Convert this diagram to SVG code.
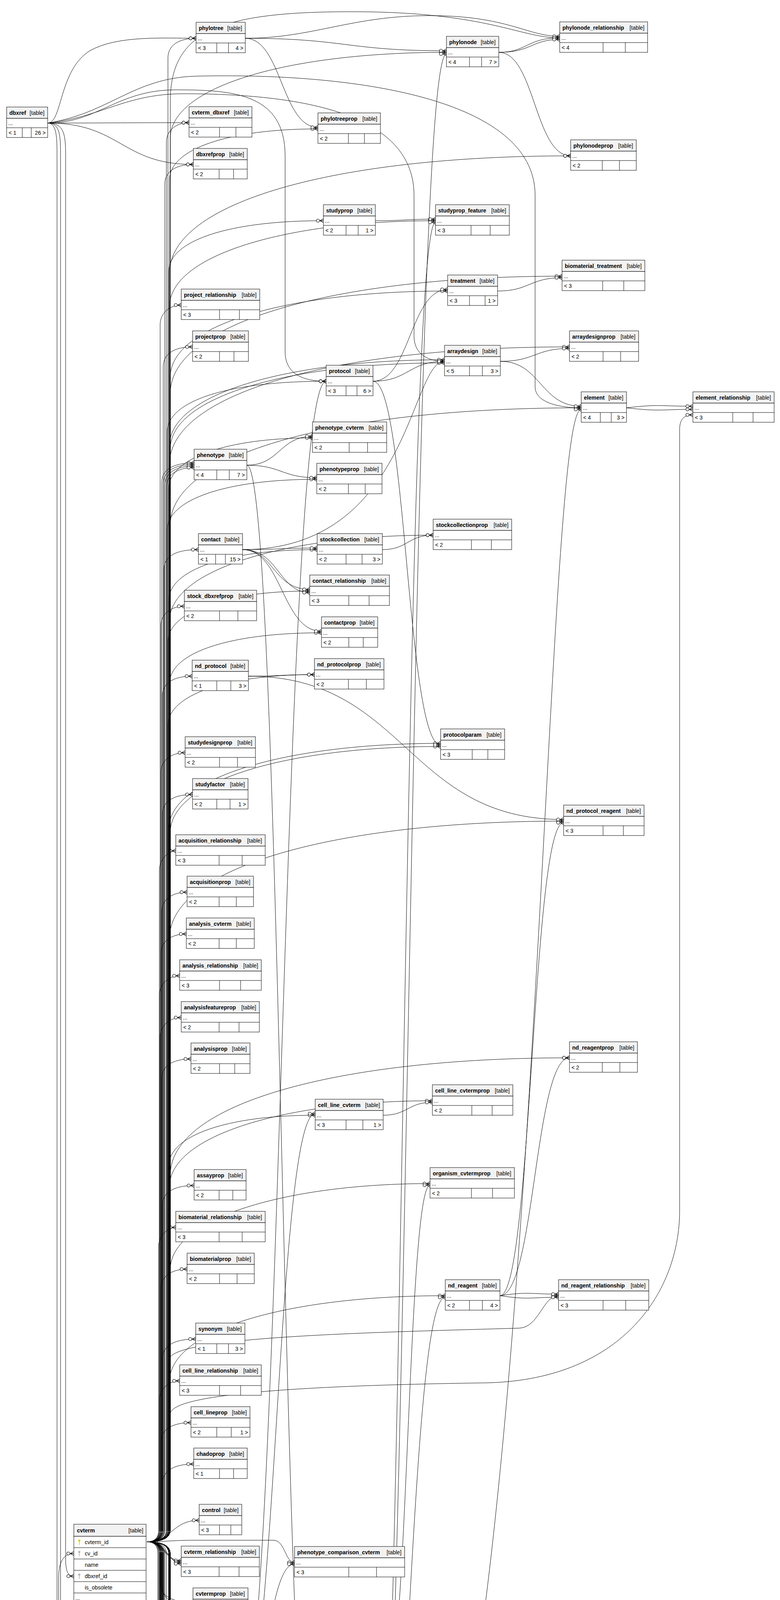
<svg xmlns="http://www.w3.org/2000/svg" xmlns:xlink="http://www.w3.org/1999/xlink" width="1997" height="7711" viewBox="0 0 1997 7711">
<style>
.h{fill:#f2f2f2;stroke:#000;stroke-width:1}
.b{fill:#fff;stroke:#000;stroke-width:1}
.l{stroke:#000;fill:none;stroke-width:1}
.n{font:bold 14px "Liberation Sans",Arial,sans-serif;fill:#000}
.t,.r{font:14px "Liberation Sans",Arial,sans-serif;fill:#000}
.r{text-anchor:end}
#connectors path{fill:none;stroke:#000;stroke-width:1;marker-end:url(#fk)}
</style>
<defs>
<marker id="fk" markerUnits="userSpaceOnUse" markerWidth="26" markerHeight="14" viewBox="-22 -7 26 14" refX="0" refY="0" orient="auto" overflow="visible">
<path d="M-9 0L0 -5M-9 0L0 5M-9 0H0" fill="none" stroke="#000" stroke-width="1.2"/>
<circle cx="-14" cy="0" r="4" fill="#fff" stroke="#000" stroke-width="1.2"/>
</marker>
<g id="kp"><circle cx="0" cy="-4" r="2.8" fill="#d6cf00"/><rect x="-0.8" y="-2" width="1.6" height="9" fill="#d6cf00"/></g>
<g id="kf"><circle cx="0" cy="-4" r="2.8" fill="#b4b4b4"/><rect x="-0.8" y="-2" width="1.6" height="9" fill="#b4b4b4"/></g>
</defs>
<rect width="1997" height="7711" fill="#fff"/>
<g id="connectors">
<path d="M376 3947Q430 3947 430 3917V148C430 118 455 98 502 98"/>
<path d="M376 3947Q426 3947 426 3917V364C426 334 451 314 484 314"/>
<path d="M376 3947Q422 3947 422 3917V471C422 441 447 421 495 421"/>
<path d="M376 3947Q410 3947 410 3917V831C410 801 435 781 464 781"/>
<path d="M376 3947Q418 3947 418 3917V938C418 908 443 888 493 888"/>
<path d="M376 3947Q414 3947 414 3917V1235C414 1205 439 1185 497 1185"/>
<path d="M376 3947Q418 3947 418 3917V1239C418 1209 443 1189 497 1189"/>
<path d="M376 3947Q422 3947 422 3917V1243C422 1213 447 1193 497 1193"/>
<path d="M376 3947Q426 3947 426 3917V1247C426 1217 451 1197 497 1197"/>
<path d="M376 3947Q420 3947 420 3917V1457C420 1427 445 1407 508 1407"/>
<path d="M376 3947Q412 3947 412 3917V1602C412 1572 437 1552 472 1552"/>
<path d="M376 3947Q416 3947 416 3917V1781C416 1751 441 1731 492 1731"/>
<path d="M376 3947Q412 3947 412 3917V1977C412 1947 437 1927 474 1927"/>
<path d="M376 3947Q416 3947 416 3917V2084C416 2054 441 2034 493 2034"/>
<path d="M376 3947Q408 3947 408 3917V2228C408 2198 433 2178 450 2178"/>
<path d="M376 3947Q414 3947 414 3917V2334C414 2304 439 2284 479 2284"/>
<path d="M376 3947Q412 3947 412 3917V2441C412 2411 437 2391 477 2391"/>
<path d="M376 3947Q408 3947 408 3917V2548C408 2518 433 2498 460 2498"/>
<path d="M376 3947Q410 3947 410 3917V2655C410 2625 435 2605 464 2605"/>
<path d="M376 3947Q414 3947 414 3917V2761C414 2731 439 2711 489 2711"/>
<path d="M376 3947Q416 3947 416 3917V3085C416 3055 441 3035 497 3035"/>
<path d="M376 3947Q406 3947 406 3917V3192C406 3162 431 3142 450 3142"/>
<path d="M376 3947Q412 3947 412 3917V3299C412 3269 437 3249 479 3249"/>
<path d="M376 3947Q416 3947 416 3917V3478C416 3448 441 3428 501 3428"/>
<path d="M376 3947Q408 3947 408 3917V3585C408 3555 433 3535 460 3535"/>
<path d="M376 3947Q412 3947 412 3917V3692C412 3662 437 3642 489 3642"/>
<path d="M376 3947Q416 3947 416 3917V3798C416 3768 441 3748 496 3748"/>
<path d="M376 3947C440 3947 440 3892 510 3892"/>
<path d="M376 3947Q434 3947 434 3917V460C434 382 584 330 814 330"/>
<path d="M376 3947Q432 3947 432 3917V695C432 617 582 565 828 565"/>
<path d="M376 3947Q428 3947 428 3917V1106C428 1028 578 976 835 976"/>
<path d="M376 3947Q432 3947 432 3917V1251C432 1173 582 1121 800 1121"/>
<path d="M376 3947Q428 3947 428 3917V1357C428 1279 578 1227 811 1227"/>
<path d="M376 3947Q432 3947 432 3917V1537C432 1459 582 1407 812 1407"/>
<path d="M376 3947Q430 3947 430 3917V1643C430 1565 580 1513 793 1513"/>
<path d="M376 3947Q434 3947 434 3917V1750C434 1672 584 1620 823 1620"/>
<path d="M376 3947Q430 3947 430 3917V1857C430 1779 580 1727 805 1727"/>
<path d="M376 3947Q432 3947 432 3917V2985C432 2907 582 2855 807 2855"/>
<path d="M376 3947Q436 3947 436 3917V354C436 222 736 134 1143 134"/>
<path d="M376 3947Q434 3947 434 3917V785C434 653 734 565 1115 565"/>
<path d="M376 3947Q436 3947 436 3917V965C436 833 736 745 1146 745"/>
<path d="M376 3947Q434 3947 434 3917V1141C434 1009 734 921 1138 921"/>
<path d="M376 3947Q436 3947 436 3917V1149C436 1017 736 929 1138 929"/>
<path d="M376 3947Q434 3947 434 3917V1590C434 1458 734 1370 1109 1370"/>
<path d="M376 3947Q432 3947 432 3917V2123C432 1991 732 1903 1128 1903"/>
<path d="M376 3947Q436 3947 436 3917V2131C436 1999 736 1911 1128 1911"/>
<path d="M376 3947Q434 3947 434 3917V3038C434 2906 734 2818 1107 2818"/>
<path d="M376 3947Q436 3947 436 3917V3250C436 3118 736 3030 1101 3030"/>
<path d="M376 3947Q434 3947 434 3917V3537C434 3405 734 3317 1140 3317"/>
<path d="M376 3947Q436 3947 436 3917V260C436 80 560 30 900 30C1250 30 1330 97 1433 97"/>
<path d="M376 3947Q434 3947 434 3917V699C434 519 854 399 1461 399"/>
<path d="M376 3947Q436 3947 436 3917V1007C436 827 856 707 1439 707"/>
<path d="M376 3947Q434 3947 434 3917V1188C434 1008 854 888 1458 888"/>
<path d="M376 3947Q436 3947 436 3917V1344C436 1164 856 1044 1488 1044"/>
<path d="M376 3947Q436 3947 436 3917V3620C436 3560 900 3545 1250 3540C1600 3530 1740 3300 1740 3100V1100C1740 1075 1750 1062 1774 1062"/>
<path d="M376 3947Q434 3947 434 3917V2402C434 2222 854 2102 1443 2102"/>
<path d="M376 3947Q436 3947 436 3917V3008C436 2828 856 2708 1458 2708"/>
<path d="M376 3947Q434 3947 434 3917V3480C434 3420 1000 3410 1330 3400C1380 3398 1390 3317 1430 3317"/>
<path d="M376 3947C420 3947 420 3995 464 3995"/>
<path d="M376 3947C425 3947 425 3999 464 3999"/>
<path d="M376 3947C430 3947 430 4003 464 4003"/>
<path d="M376 3947Q410 3947 410 3977V4052C410 4082 435 4102 494 4102"/>
<path d="M376 3947Q414 3947 414 3977V4060C414 4090 439 4110 494 4110"/>
<path d="M376 3947Q412 3947 412 3977V4158C412 4188 437 4208 477 4208"/>
<path d="M376 3947Q416 3947 416 3977V4166C416 4196 441 4216 477 4216"/>
<path d="M376 3947Q418 3947 418 3977V4269C418 4299 443 4319 508 4319"/>
<path d="M376 3947Q414 3947 414 3977V4376C414 4406 439 4426 520 4426"/>
<path d="M376 3947Q406 3947 406 3977V4520C406 4550 421 4570 441 4570"/>
<path d="M376 3947Q410 3947 410 3977V4626C410 4656 435 4676 461 4676"/>
<path d="M376 3947Q414 3947 414 3977V4771C414 4801 439 4821 479 4821"/>
<path d="M376 3947Q408 3947 408 3977V4986C408 5016 428 5036 451 5036"/>
<path d="M376 3947Q412 3947 412 3977V5166C412 5196 437 5216 476 5216"/>
<path d="M376 3947Q404 3947 404 3977V5310C404 5340 419 5360 439 5360"/>
<path d="M376 3947Q416 3947 416 3977V5455C416 5485 441 5505 501 5505"/>
<path d="M376 3947Q412 3947 412 3977V5598C412 5628 437 5648 480 5648"/>
<path d="M376 3947Q408 3947 408 3977V5815C408 5845 428 5865 452 5865"/>
<path d="M376 3947Q410 3947 410 3977V5921C410 5951 435 5971 467 5971"/>
<path d="M376 3947Q412 3947 412 3977V6097C412 6127 437 6147 467 6147"/>
<path d="M376 3947Q416 3947 416 3977V6105C416 6135 441 6155 467 6155"/>
<path d="M376 3947Q418 3947 418 3977V6281C418 6311 443 6331 501 6331"/>
<path d="M376 3947Q410 3947 410 3977V6425C410 6455 435 6475 464 6475"/>
<path d="M376 3947Q412 3947 412 3977V6642C412 6672 437 6692 469 6692"/>
<path d="M376 3947Q414 3947 414 3977V6857C414 6887 439 6907 481 6907"/>
<path d="M376 3947Q418 3947 418 3977V7161C418 7191 443 7211 495 7211"/>
<path d="M376 3947Q418 3947 418 3977V7457C418 7487 443 7507 495 7507"/>
<path d="M376 3947Q422 3947 422 3977V7461C422 7491 447 7511 495 7511"/>
<path d="M376 3947Q426 3947 426 3977V7465C426 7495 451 7515 495 7515"/>
<path d="M376 3947Q420 3947 420 3977V7570C420 7600 445 7620 510 7620"/>
<path d="M376 3947C420 3947 440 3943 500 3943H700C730 3943 730 4000 754 4000"/>
<path d="M376 3947Q434 3947 434 3977V4085C434 4163 584 4215 805 4215"/>
<path d="M376 3947Q432 3947 432 3977V4192C432 4270 582 4322 804 4322"/>
<path d="M376 3947Q434 3947 434 3977V4408C434 4486 584 4538 835 4538"/>
<path d="M376 3947Q432 3947 432 3977V4638C432 4716 582 4768 812 4768"/>
<path d="M376 3947Q434 3947 434 3977V4889C434 4967 584 5019 841 5019"/>
<path d="M376 3947Q432 3947 432 3977V5155C432 5233 582 5285 830 5285"/>
<path d="M376 3947Q434 3947 434 3977V5482C434 5560 584 5612 816 5612"/>
<path d="M376 3947Q432 3947 432 3977V6021C432 6099 582 6151 781 6151"/>
<path d="M376 3947Q434 3947 434 3977V6128C434 6206 584 6258 814 6258"/>
<path d="M376 3947Q432 3947 432 3977V6235C432 6313 582 6365 786 6365"/>
<path d="M376 3947Q434 3947 434 3977V6522C434 6600 584 6652 845 6652"/>
<path d="M376 3947Q432 3947 432 3977V6775C432 6853 582 6905 780 6905"/>
<path d="M376 3947Q434 3947 434 3977V6881C434 6959 584 7011 796 7011"/>
<path d="M376 3947Q432 3947 432 3977V7061C432 7139 582 7191 842 7191"/>
<path d="M376 3947Q434 3947 434 3977V7168C434 7246 584 7298 807 7298"/>
<path d="M376 3947Q436 3947 436 3977V4138C436 4270 736 4358 1129 4358"/>
<path d="M376 3947Q434 3947 434 3977V4778C434 4910 734 4998 1109 4998"/>
<path d="M376 3947Q436 3947 436 3977V4885C436 5017 736 5105 1127 5105"/>
<path d="M376 3947Q434 3947 434 3977V4991C434 5123 734 5211 1119 5211"/>
<path d="M376 3947Q436 3947 436 3977V5098C436 5230 736 5318 1139 5318"/>
<path d="M376 3947Q434 3947 434 3977V6055C434 6187 734 6275 1132 6275"/>
<path d="M376 3947Q436 3947 436 3977V6162C436 6294 736 6382 1104 6382"/>
<path d="M376 3947Q434 3947 434 3977V6269C434 6401 734 6489 1114 6489"/>
<path d="M376 3947Q436 3947 436 3977V6375C436 6507 736 6595 1144 6595"/>
<path d="M376 3947Q434 3947 434 3977V6545C434 6677 734 6765 1129 6765"/>
<path d="M376 3947Q436 3947 436 3977V6859C436 6991 736 7079 1118 7079"/>
<path d="M376 3947Q434 3947 434 3977V6971C434 7103 734 7191 1111 7191"/>
<path d="M376 3947Q436 3947 436 3977V7113C436 7245 736 7333 1140 7333"/>
<path d="M376 3947Q436 3947 436 3977V4661C436 4841 856 4961 1429 4961"/>
<path d="M376 3947Q434 3947 434 3977V4963C434 5143 854 5263 1446 5263"/>
<path d="M376 3947Q436 3947 436 3977V5786C436 5966 856 6086 1423 6086"/>
<path d="M376 3947Q434 3947 434 3977V6189C434 6369 854 6489 1423 6489"/>
<path d="M376 3947Q436 3947 436 3977V6787C436 6967 856 7087 1384 7087"/>
<path d="M122 315C160 315 150 180 230 130C300 90 420 98 502 98"/>
<path d="M122 315C300 315 300 314 484 314"/>
<path d="M122 315C310 315 310 421 495 421"/>
<path d="M122 315C250 315 300 230 450 230C600 230 730 240 730 400V900C730 960 780 976 835 976"/>
<path d="M122 315C260 300 320 240 470 240C800 240 1060 300 1060 500V860C1060 910 1100 925 1138 925"/>
<path d="M122 315C280 290 340 200 500 195C900 185 1370 250 1370 500V990C1370 1030 1430 1044 1488 1044"/>
<path d="M122 315C165 315 168 345 168 400V3990C168 4025 175 4035 189 4035"/>
<path d="M122 315C155 315 155 350 155 400V4900C155 5000 600 5019 841 5019"/>
<path d="M122 315C146 315 146 355 146 400V6560C146 6640 600 6652 845 6652"/>
<path d="M108 7514C150 7514 150 7480 150 7420V4040C150 3995 165 3977 189 3977"/>
<path d="M108 7514C300 7514 300 7519 495 7519"/>
<path d="M108 7514C309 7514 309 7620 510 7620"/>
<path d="M608 4426C721 4426 721 976 835 976"/>
<path d="M608 4426C708 4426 708 2851 807 2851"/>
<path d="M608 4426C681 4426 681 4004 754 4004"/>
<path d="M608 4426C700 4426 700 4211 805 4211"/>
<path d="M608 4426C712 4426 712 4219 805 4219"/>
<path d="M608 4426C706 4426 706 4318 804 4318"/>
<path d="M608 4426C721 4426 721 4538 835 4538"/>
<path d="M608 4426C710 4426 710 4764 812 4764"/>
<path d="M608 4426C1045 4426 1045 4354 1129 4354"/>
<path d="M608 4426C1048 4426 1048 5101 1127 5101"/>
<path d="M608 4426C719 4426 719 5281 830 5281"/>
<path d="M608 4426C1015 4426 1015 6485 1423 6485"/>
<path d="M608 4426C1040 4426 1040 6794 1129 6794"/>
<path d="M621 1407C1050 1407 1050 925 1138 925"/>
<path d="M621 1407C716 1407 716 1403 812 1403"/>
<path d="M621 1407C700 1407 700 1509 793 1509"/>
<path d="M621 1407C714 1407 714 1517 793 1517"/>
<path d="M621 1407C722 1407 722 1616 823 1616"/>
<path d="M979 1407C1044 1407 1044 1370 1109 1370"/>
<path d="M961 565C1038 565 1038 561 1115 561"/>
<path d="M628 98C721 98 721 326 814 326"/>
<path d="M628 98C885 98 885 130 1143 130"/>
<path d="M628 98C800 98 900 40 1100 40C1300 40 1350 93 1433 93"/>
<path d="M1277 134C1349 134 1349 97 1433 97"/>
<path d="M1277 134C1361 134 1361 101 1433 101"/>
<path d="M1277 134C1369 134 1369 399 1461 399"/>
<path d="M950 5019C1046 5019 1046 138 1143 138"/>
<path d="M950 5019C1032 5019 1032 569 1115 569"/>
<path d="M950 5019C1380 5019 1380 1048 1488 1048"/>
<path d="M950 5019C1045 5019 1045 3321 1140 3321"/>
<path d="M950 5019C1025 5019 1025 4994 1109 4994"/>
<path d="M950 5019C1035 5019 1035 5002 1109 5002"/>
<path d="M950 5019C1038 5019 1038 5109 1127 5109"/>
<path d="M950 5019C1030 5019 1030 5207 1119 5207"/>
<path d="M950 5019C1040 5019 1040 5215 1119 5215"/>
<path d="M950 5019C1044 5019 1044 5314 1139 5314"/>
<path d="M950 5019C1041 5019 1041 6271 1132 6271"/>
<path d="M955 976C1050 976 1050 741 1146 741"/>
<path d="M955 976C1046 976 1046 925 1138 925"/>
<path d="M955 976C1041 976 1041 1907 1128 1907"/>
<path d="M632 1191C716 1191 716 1117 800 1117"/>
<path d="M632 1191C721 1191 721 1223 811 1223"/>
<path d="M632 1191C722 1191 722 4772 812 4772"/>
<path d="M1274 745C1356 745 1356 711 1439 711"/>
<path d="M1281 925C1370 925 1370 892 1458 892"/>
<path d="M1281 925C1384 925 1384 1040 1488 1040"/>
<path d="M1604 1044C1690 1034 1690 1040 1774 1040"/>
<path d="M1604 1044C1690 1054 1690 1048 1774 1048"/>
<path d="M636 1731C720 1731 720 1727 805 1727"/>
<path d="M636 1731C1040 1731 1040 2098 1443 2098"/>
<path d="M1280 3317C1362 3317 1362 2106 1443 2106"/>
<path d="M1280 3317C1369 3317 1369 2708 1458 2708"/>
<path d="M1280 3317C1355 3306 1355 3313 1430 3313"/>
<path d="M1280 3317C1355 3328 1355 3321 1430 3321"/>
<path d="M981 2855C1044 2855 1044 2822 1107 2822"/>
<path d="M987 4322C1044 4322 1044 3034 1101 3034"/>
<path d="M1311 4998C1370 4998 1370 4961 1429 4961"/>
<path d="M1292 5105C1369 5105 1369 5263 1446 5263"/>
<path d="M627 5505C720 5505 720 4768 812 4768"/>
<path d="M627 5505C1052 5505 1052 5211 1119 5211"/>
<path d="M627 5505C729 5505 729 5289 830 5289"/>
<path d="M627 5505C722 5505 722 5612 816 5612"/>
<path d="M661 6151C721 6151 721 6151 781 6151"/>
<path d="M628 6331C716 6331 716 4326 804 4326"/>
<path d="M628 6331C735 6331 735 5023 841 5023"/>
<path d="M628 6331C721 6331 721 6258 814 6258"/>
<path d="M628 6331C700 6331 700 6361 786 6361"/>
<path d="M628 6331C714 6331 714 6369 786 6369"/>
<path d="M628 6331C737 6331 737 6648 845 6648"/>
<path d="M628 6331C735 6331 735 7187 842 7187"/>
<path d="M944 6652C1038 6652 1038 6279 1132 6279"/>
<path d="M944 6652C1024 6652 1024 6378 1104 6378"/>
<path d="M944 6652C1022 6652 1022 6483 1114 6483"/>
<path d="M944 6652C1036 6652 1036 6495 1114 6495"/>
<path d="M944 6652C1044 6652 1044 6595 1144 6595"/>
<path d="M944 6652C1036 6652 1036 6735 1129 6735"/>
<path d="M944 6652C1031 6652 1031 7075 1118 7075"/>
<path d="M1314 6382C1368 6382 1368 6090 1423 6090"/>
<path d="M1304 6489C1364 6489 1364 6493 1423 6493"/>
<path d="M646 6907C1050 6907 1050 6386 1104 6386"/>
<path d="M646 6907C713 6907 713 6909 780 6909"/>
<path d="M646 6907C721 6907 721 7015 796 7015"/>
<path d="M948 7191C1038 7191 1038 4362 1129 4362"/>
<path d="M948 7191C1030 7180 1030 7187 1111 7187"/>
<path d="M948 7191C1030 7202 1030 7195 1111 7195"/>
<path d="M948 7191C1044 7191 1044 7329 1140 7329"/>
<path d="M635 7211C721 7211 721 7294 807 7294"/>
<path d="M635 7211C1055 7211 1055 7083 1118 7083"/>
<path d="M1291 6706C1337 6706 1337 7057 1384 7057"/>
</g>
<g id="dbxref" transform="translate(17,274)"><rect class="h" width="105" height="29"/><rect class="b" y="29" width="105" height="49"/><path class="l" d="M0 53H105M40 53V78M63 53V78"/><text class="n" x="7" y="20">dbxref</text><text class="r" x="97" y="20">[table]</text><text class="t" x="4" y="46">...</text><text class="t" x="5" y="71">&lt; 1</text><text class="r" x="100" y="71">26 &gt;</text></g>
<g id="phylotree" transform="translate(502,57)"><rect class="h" width="126" height="29"/><rect class="b" y="29" width="126" height="49"/><path class="l" d="M0 53H126M53 53V78M83 53V78"/><text class="n" x="7" y="20">phylotree</text><text class="r" x="118" y="20">[table]</text><text class="t" x="4" y="46">...</text><text class="t" x="5" y="71">&lt; 3</text><text class="r" x="121" y="71">4 &gt;</text></g>
<g id="cvterm_dbxref" transform="translate(484,273)"><rect class="h" width="161" height="29"/><rect class="b" y="29" width="161" height="49"/><path class="l" d="M0 53H161M78 53V78M120 53V78"/><text class="n" x="7" y="20">cvterm_dbxref</text><text class="r" x="153" y="20">[table]</text><text class="t" x="4" y="46">...</text><text class="t" x="5" y="71">&lt; 2</text></g>
<g id="dbxrefprop" transform="translate(495,380)"><rect class="h" width="138" height="29"/><rect class="b" y="29" width="138" height="49"/><path class="l" d="M0 53H138M66 53V78M103 53V78"/><text class="n" x="7" y="20">dbxrefprop</text><text class="r" x="130" y="20">[table]</text><text class="t" x="4" y="46">...</text><text class="t" x="5" y="71">&lt; 2</text></g>
<g id="phylotreeprop" transform="translate(814,289)"><rect class="h" width="160" height="29"/><rect class="b" y="29" width="160" height="49"/><path class="l" d="M0 53H160M78 53V78M119 53V78"/><text class="n" x="7" y="20">phylotreeprop</text><text class="r" x="152" y="20">[table]</text><text class="t" x="4" y="46">...</text><text class="t" x="5" y="71">&lt; 2</text></g>
<g id="studyprop" transform="translate(828,524)"><rect class="h" width="133" height="29"/><rect class="b" y="29" width="133" height="49"/><path class="l" d="M0 53H133M58 53V78M89 53V78"/><text class="n" x="7" y="20">studyprop</text><text class="r" x="125" y="20">[table]</text><text class="t" x="4" y="46">...</text><text class="t" x="5" y="71">&lt; 2</text><text class="r" x="128" y="71">1 &gt;</text></g>
<g id="project_relationship" transform="translate(464,740)"><rect class="h" width="201" height="29"/><rect class="b" y="29" width="201" height="49"/><path class="l" d="M0 53H201M98 53V78M149 53V78"/><text class="n" x="7" y="20">project_relationship</text><text class="r" x="193" y="20">[table]</text><text class="t" x="4" y="46">...</text><text class="t" x="5" y="71">&lt; 3</text></g>
<g id="projectprop" transform="translate(493,847)"><rect class="h" width="143" height="29"/><rect class="b" y="29" width="143" height="49"/><path class="l" d="M0 53H143M69 53V78M106 53V78"/><text class="n" x="7" y="20">projectprop</text><text class="r" x="135" y="20">[table]</text><text class="t" x="4" y="46">...</text><text class="t" x="5" y="71">&lt; 2</text></g>
<g id="protocol" transform="translate(835,935)"><rect class="h" width="120" height="29"/><rect class="b" y="29" width="120" height="49"/><path class="l" d="M0 53H120M51 53V78M79 53V78"/><text class="n" x="7" y="20">protocol</text><text class="r" x="112" y="20">[table]</text><text class="t" x="4" y="46">...</text><text class="t" x="5" y="71">&lt; 3</text><text class="r" x="115" y="71">6 &gt;</text></g>
<g id="phenotype_cvterm" transform="translate(800,1080)"><rect class="h" width="190" height="29"/><rect class="b" y="29" width="190" height="49"/><path class="l" d="M0 53H190M94 53V78M141 53V78"/><text class="n" x="7" y="20">phenotype_cvterm</text><text class="r" x="182" y="20">[table]</text><text class="t" x="4" y="46">...</text><text class="t" x="5" y="71">&lt; 2</text></g>
<g id="phenotype" transform="translate(497,1150)"><rect class="h" width="135" height="29"/><rect class="b" y="29" width="135" height="49"/><path class="l" d="M0 53H135M58 53V78M90 53V78"/><text class="n" x="7" y="20">phenotype</text><text class="r" x="127" y="20">[table]</text><text class="t" x="4" y="46">...</text><text class="t" x="5" y="71">&lt; 4</text><text class="r" x="130" y="71">7 &gt;</text></g>
<g id="phenotypeprop" transform="translate(811,1186)"><rect class="h" width="167" height="29"/><rect class="b" y="29" width="167" height="49"/><path class="l" d="M0 53H167M81 53V78M124 53V78"/><text class="n" x="7" y="20">phenotypeprop</text><text class="r" x="159" y="20">[table]</text><text class="t" x="4" y="46">...</text><text class="t" x="5" y="71">&lt; 2</text></g>
<g id="phylonode" transform="translate(1143,93)"><rect class="h" width="134" height="29"/><rect class="b" y="29" width="134" height="49"/><path class="l" d="M0 53H134M59 53V78M90 53V78"/><text class="n" x="7" y="20">phylonode</text><text class="r" x="126" y="20">[table]</text><text class="t" x="4" y="46">...</text><text class="t" x="5" y="71">&lt; 4</text><text class="r" x="129" y="71">7 &gt;</text></g>
<g id="phylonode_relationship" transform="translate(1433,56)"><rect class="h" width="225" height="29"/><rect class="b" y="29" width="225" height="49"/><path class="l" d="M0 53H225M111 53V78M168 53V78"/><text class="n" x="7" y="20">phylonode_relationship</text><text class="r" x="217" y="20">[table]</text><text class="t" x="4" y="46">...</text><text class="t" x="5" y="71">&lt; 4</text></g>
<g id="phylonodeprop" transform="translate(1461,358)"><rect class="h" width="168" height="29"/><rect class="b" y="29" width="168" height="49"/><path class="l" d="M0 53H168M81 53V78M125 53V78"/><text class="n" x="7" y="20">phylonodeprop</text><text class="r" x="160" y="20">[table]</text><text class="t" x="4" y="46">...</text><text class="t" x="5" y="71">&lt; 2</text></g>
<g id="studyprop_feature" transform="translate(1115,524)"><rect class="h" width="189" height="29"/><rect class="b" y="29" width="189" height="49"/><path class="l" d="M0 53H189M91 53V78M140 53V78"/><text class="n" x="7" y="20">studyprop_feature</text><text class="r" x="181" y="20">[table]</text><text class="t" x="4" y="46">...</text><text class="t" x="5" y="71">&lt; 3</text></g>
<g id="biomaterial_treatment" transform="translate(1439,666)"><rect class="h" width="212" height="29"/><rect class="b" y="29" width="212" height="49"/><path class="l" d="M0 53H212M104 53V78M158 53V78"/><text class="n" x="7" y="20">biomaterial_treatment</text><text class="r" x="204" y="20">[table]</text><text class="t" x="4" y="46">...</text><text class="t" x="5" y="71">&lt; 3</text></g>
<g id="treatment" transform="translate(1146,704)"><rect class="h" width="128" height="29"/><rect class="b" y="29" width="128" height="49"/><path class="l" d="M0 53H128M56 53V78M96 53V78"/><text class="n" x="7" y="20">treatment</text><text class="r" x="120" y="20">[table]</text><text class="t" x="4" y="46">...</text><text class="t" x="5" y="71">&lt; 3</text><text class="r" x="123" y="71">1 &gt;</text></g>
<g id="arraydesignprop" transform="translate(1458,847)"><rect class="h" width="177" height="29"/><rect class="b" y="29" width="177" height="49"/><path class="l" d="M0 53H177M86 53V78M131 53V78"/><text class="n" x="7" y="20">arraydesignprop</text><text class="r" x="169" y="20">[table]</text><text class="t" x="4" y="46">...</text><text class="t" x="5" y="71">&lt; 2</text></g>
<g id="arraydesign" transform="translate(1138,884)"><rect class="h" width="143" height="29"/><rect class="b" y="29" width="143" height="49"/><path class="l" d="M0 53H143M64 53V78M97 53V78"/><text class="n" x="7" y="20">arraydesign</text><text class="r" x="135" y="20">[table]</text><text class="t" x="4" y="46">...</text><text class="t" x="5" y="71">&lt; 5</text><text class="r" x="138" y="71">3 &gt;</text></g>
<g id="element" transform="translate(1488,1003)"><rect class="h" width="116" height="29"/><rect class="b" y="29" width="116" height="49"/><path class="l" d="M0 53H116M49 53V78M77 53V78"/><text class="n" x="7" y="20">element</text><text class="r" x="108" y="20">[table]</text><text class="t" x="4" y="46">...</text><text class="t" x="5" y="71">&lt; 4</text><text class="r" x="111" y="71">3 &gt;</text></g>
<g id="element_relationship" transform="translate(1774,1003)"><rect class="h" width="208" height="29"/><rect class="b" y="29" width="208" height="49"/><path class="l" d="M0 53H208M102 53V78M154 53V78"/><text class="n" x="7" y="20">element_relationship</text><text class="r" x="200" y="20">[table]</text><text class="t" x="4" y="46">...</text><text class="t" x="5" y="71">&lt; 3</text></g>
<g id="contact" transform="translate(508,1366)"><rect class="h" width="113" height="29"/><rect class="b" y="29" width="113" height="49"/><path class="l" d="M0 53H113M44 53V78M69 53V78"/><text class="n" x="7" y="20">contact</text><text class="r" x="105" y="20">[table]</text><text class="t" x="4" y="46">...</text><text class="t" x="5" y="71">&lt; 1</text><text class="r" x="108" y="71">15 &gt;</text></g>
<g id="stockcollection" transform="translate(812,1366)"><rect class="h" width="167" height="29"/><rect class="b" y="29" width="167" height="49"/><path class="l" d="M0 53H167M74 53V78M115 53V78"/><text class="n" x="7" y="20">stockcollection</text><text class="r" x="159" y="20">[table]</text><text class="t" x="4" y="46">...</text><text class="t" x="5" y="71">&lt; 2</text><text class="r" x="162" y="71">3 &gt;</text></g>
<g id="stock_dbxrefprop" transform="translate(472,1511)"><rect class="h" width="185" height="29"/><rect class="b" y="29" width="185" height="49"/><path class="l" d="M0 53H185M90 53V78M137 53V78"/><text class="n" x="7" y="20">stock_dbxrefprop</text><text class="r" x="177" y="20">[table]</text><text class="t" x="4" y="46">...</text><text class="t" x="5" y="71">&lt; 2</text></g>
<g id="contact_relationship" transform="translate(793,1472)"><rect class="h" width="204" height="29"/><rect class="b" y="29" width="204" height="49"/><path class="l" d="M0 53H204M100 53V78M152 53V78"/><text class="n" x="7" y="20">contact_relationship</text><text class="r" x="196" y="20">[table]</text><text class="t" x="4" y="46">...</text><text class="t" x="5" y="71">&lt; 3</text></g>
<g id="contactprop" transform="translate(823,1579)"><rect class="h" width="144" height="29"/><rect class="b" y="29" width="144" height="49"/><path class="l" d="M0 53H144M70 53V78M107 53V78"/><text class="n" x="7" y="20">contactprop</text><text class="r" x="136" y="20">[table]</text><text class="t" x="4" y="46">...</text><text class="t" x="5" y="71">&lt; 2</text></g>
<g id="nd_protocol" transform="translate(492,1690)"><rect class="h" width="144" height="29"/><rect class="b" y="29" width="144" height="49"/><path class="l" d="M0 53H144M63 53V78M99 53V78"/><text class="n" x="7" y="20">nd_protocol</text><text class="r" x="136" y="20">[table]</text><text class="t" x="4" y="46">...</text><text class="t" x="5" y="71">&lt; 1</text><text class="r" x="139" y="71">3 &gt;</text></g>
<g id="nd_protocolprop" transform="translate(805,1686)"><rect class="h" width="178" height="29"/><rect class="b" y="29" width="178" height="49"/><path class="l" d="M0 53H178M87 53V78M133 53V78"/><text class="n" x="7" y="20">nd_protocolprop</text><text class="r" x="170" y="20">[table]</text><text class="t" x="4" y="46">...</text><text class="t" x="5" y="71">&lt; 2</text></g>
<g id="studydesignprop" transform="translate(474,1886)"><rect class="h" width="180" height="29"/><rect class="b" y="29" width="180" height="49"/><path class="l" d="M0 53H180M88 53V78M134 53V78"/><text class="n" x="7" y="20">studydesignprop</text><text class="r" x="172" y="20">[table]</text><text class="t" x="4" y="46">...</text><text class="t" x="5" y="71">&lt; 2</text></g>
<g id="studyfactor" transform="translate(493,1993)"><rect class="h" width="142" height="29"/><rect class="b" y="29" width="142" height="49"/><path class="l" d="M0 53H142M62 53V78M96 53V78"/><text class="n" x="7" y="20">studyfactor</text><text class="r" x="134" y="20">[table]</text><text class="t" x="4" y="46">...</text><text class="t" x="5" y="71">&lt; 2</text><text class="r" x="137" y="71">1 &gt;</text></g>
<g id="acquisition_relationship" transform="translate(450,2137)"><rect class="h" width="229" height="29"/><rect class="b" y="29" width="229" height="49"/><path class="l" d="M0 53H229M111 53V78M170 53V78"/><text class="n" x="7" y="20">acquisition_relationship</text><text class="r" x="221" y="20">[table]</text><text class="t" x="4" y="46">...</text><text class="t" x="5" y="71">&lt; 3</text></g>
<g id="acquisitionprop" transform="translate(479,2243)"><rect class="h" width="170" height="29"/><rect class="b" y="29" width="170" height="49"/><path class="l" d="M0 53H170M82 53V78M126 53V78"/><text class="n" x="7" y="20">acquisitionprop</text><text class="r" x="162" y="20">[table]</text><text class="t" x="4" y="46">...</text><text class="t" x="5" y="71">&lt; 2</text></g>
<g id="analysis_cvterm" transform="translate(477,2350)"><rect class="h" width="174" height="29"/><rect class="b" y="29" width="174" height="49"/><path class="l" d="M0 53H174M84 53V78M128 53V78"/><text class="n" x="7" y="20">analysis_cvterm</text><text class="r" x="166" y="20">[table]</text><text class="t" x="4" y="46">...</text><text class="t" x="5" y="71">&lt; 2</text></g>
<g id="analysis_relationship" transform="translate(460,2457)"><rect class="h" width="209" height="29"/><rect class="b" y="29" width="209" height="49"/><path class="l" d="M0 53H209M102 53V78M156 53V78"/><text class="n" x="7" y="20">analysis_relationship</text><text class="r" x="201" y="20">[table]</text><text class="t" x="4" y="46">...</text><text class="t" x="5" y="71">&lt; 3</text></g>
<g id="analysisfeatureprop" transform="translate(464,2564)"><rect class="h" width="200" height="29"/><rect class="b" y="29" width="200" height="49"/><path class="l" d="M0 53H200M97 53V78M148 53V78"/><text class="n" x="7" y="20">analysisfeatureprop</text><text class="r" x="192" y="20">[table]</text><text class="t" x="4" y="46">...</text><text class="t" x="5" y="71">&lt; 2</text></g>
<g id="stockcollectionprop" transform="translate(1109,1329)"><rect class="h" width="201" height="29"/><rect class="b" y="29" width="201" height="49"/><path class="l" d="M0 53H201M98 53V78M149 53V78"/><text class="n" x="7" y="20">stockcollectionprop</text><text class="r" x="193" y="20">[table]</text><text class="t" x="4" y="46">...</text><text class="t" x="5" y="71">&lt; 2</text></g>
<g id="protocolparam" transform="translate(1128,1866)"><rect class="h" width="164" height="29"/><rect class="b" y="29" width="164" height="49"/><path class="l" d="M0 53H164M81 53V78M121 53V78"/><text class="n" x="7" y="20">protocolparam</text><text class="r" x="156" y="20">[table]</text><text class="t" x="4" y="46">...</text><text class="t" x="5" y="71">&lt; 3</text></g>
<g id="nd_protocol_reagent" transform="translate(1443,2061)"><rect class="h" width="206" height="29"/><rect class="b" y="29" width="206" height="49"/><path class="l" d="M0 53H206M101 53V78M153 53V78"/><text class="n" x="7" y="20">nd_protocol_reagent</text><text class="r" x="198" y="20">[table]</text><text class="t" x="4" y="46">...</text><text class="t" x="5" y="71">&lt; 3</text></g>
<g id="analysisprop" transform="translate(489,2670)"><rect class="h" width="151" height="29"/><rect class="b" y="29" width="151" height="49"/><path class="l" d="M0 53H151M73 53V78M112 53V78"/><text class="n" x="7" y="20">analysisprop</text><text class="r" x="143" y="20">[table]</text><text class="t" x="4" y="46">...</text><text class="t" x="5" y="71">&lt; 2</text></g>
<g id="cell_line_cvterm" transform="translate(807,2814)"><rect class="h" width="174" height="29"/><rect class="b" y="29" width="174" height="49"/><path class="l" d="M0 53H174M79 53V78M122 53V78"/><text class="n" x="7" y="20">cell_line_cvterm</text><text class="r" x="166" y="20">[table]</text><text class="t" x="4" y="46">...</text><text class="t" x="5" y="71">&lt; 3</text><text class="r" x="169" y="71">1 &gt;</text></g>
<g id="assayprop" transform="translate(497,2994)"><rect class="h" width="133" height="29"/><rect class="b" y="29" width="133" height="49"/><path class="l" d="M0 53H133M64 53V78M99 53V78"/><text class="n" x="7" y="20">assayprop</text><text class="r" x="125" y="20">[table]</text><text class="t" x="4" y="46">...</text><text class="t" x="5" y="71">&lt; 2</text></g>
<g id="biomaterial_relationship" transform="translate(450,3101)"><rect class="h" width="229" height="29"/><rect class="b" y="29" width="229" height="49"/><path class="l" d="M0 53H229M111 53V78M170 53V78"/><text class="n" x="7" y="20">biomaterial_relationship</text><text class="r" x="221" y="20">[table]</text><text class="t" x="4" y="46">...</text><text class="t" x="5" y="71">&lt; 3</text></g>
<g id="biomaterialprop" transform="translate(479,3208)"><rect class="h" width="172" height="29"/><rect class="b" y="29" width="172" height="49"/><path class="l" d="M0 53H172M83 53V78M128 53V78"/><text class="n" x="7" y="20">biomaterialprop</text><text class="r" x="164" y="20">[table]</text><text class="t" x="4" y="46">...</text><text class="t" x="5" y="71">&lt; 2</text></g>
<g id="synonym" transform="translate(501,3387)"><rect class="h" width="126" height="29"/><rect class="b" y="29" width="126" height="49"/><path class="l" d="M0 53H126M54 53V78M84 53V78"/><text class="n" x="7" y="20">synonym</text><text class="r" x="118" y="20">[table]</text><text class="t" x="4" y="46">...</text><text class="t" x="5" y="71">&lt; 1</text><text class="r" x="121" y="71">3 &gt;</text></g>
<g id="cell_line_relationship" transform="translate(460,3494)"><rect class="h" width="209" height="29"/><rect class="b" y="29" width="209" height="49"/><path class="l" d="M0 53H209M102 53V78M156 53V78"/><text class="n" x="7" y="20">cell_line_relationship</text><text class="r" x="201" y="20">[table]</text><text class="t" x="4" y="46">...</text><text class="t" x="5" y="71">&lt; 3</text></g>
<g id="cell_lineprop" transform="translate(489,3601)"><rect class="h" width="151" height="29"/><rect class="b" y="29" width="151" height="49"/><path class="l" d="M0 53H151M66 53V78M103 53V78"/><text class="n" x="7" y="20">cell_lineprop</text><text class="r" x="143" y="20">[table]</text><text class="t" x="4" y="46">...</text><text class="t" x="5" y="71">&lt; 2</text><text class="r" x="146" y="71">1 &gt;</text></g>
<g id="chadoprop" transform="translate(496,3707)"><rect class="h" width="137" height="29"/><rect class="b" y="29" width="137" height="49"/><path class="l" d="M0 53H137M66 53V78M102 53V78"/><text class="n" x="7" y="20">chadoprop</text><text class="r" x="129" y="20">[table]</text><text class="t" x="4" y="46">...</text><text class="t" x="5" y="71">&lt; 1</text></g>
<g id="control" transform="translate(510,3851)"><rect class="h" width="109" height="29"/><rect class="b" y="29" width="109" height="49"/><path class="l" d="M0 53H109M52 53V78M81 53V78"/><text class="n" x="7" y="20">control</text><text class="r" x="101" y="20">[table]</text><text class="t" x="4" y="46">...</text><text class="t" x="5" y="71">&lt; 3</text></g>
<g id="nd_reagentprop" transform="translate(1458,2667)"><rect class="h" width="174" height="29"/><rect class="b" y="29" width="174" height="49"/><path class="l" d="M0 53H174M84 53V78M129 53V78"/><text class="n" x="7" y="20">nd_reagentprop</text><text class="r" x="166" y="20">[table]</text><text class="t" x="4" y="46">...</text><text class="t" x="5" y="71">&lt; 2</text></g>
<g id="cell_line_cvtermprop" transform="translate(1107,2777)"><rect class="h" width="206" height="29"/><rect class="b" y="29" width="206" height="49"/><path class="l" d="M0 53H206M101 53V78M153 53V78"/><text class="n" x="7" y="20">cell_line_cvtermprop</text><text class="r" x="198" y="20">[table]</text><text class="t" x="4" y="46">...</text><text class="t" x="5" y="71">&lt; 2</text></g>
<g id="organism_cvtermprop" transform="translate(1101,2989)"><rect class="h" width="216" height="29"/><rect class="b" y="29" width="216" height="49"/><path class="l" d="M0 53H216M106 53V78M160 53V78"/><text class="n" x="7" y="20">organism_cvtermprop</text><text class="r" x="208" y="20">[table]</text><text class="t" x="4" y="46">...</text><text class="t" x="5" y="71">&lt; 2</text></g>
<g id="nd_reagent" transform="translate(1140,3276)"><rect class="h" width="140" height="29"/><rect class="b" y="29" width="140" height="49"/><path class="l" d="M0 53H140M62 53V78M95 53V78"/><text class="n" x="7" y="20">nd_reagent</text><text class="r" x="132" y="20">[table]</text><text class="t" x="4" y="46">...</text><text class="t" x="5" y="71">&lt; 2</text><text class="r" x="135" y="71">4 &gt;</text></g>
<g id="nd_reagent_relationship" transform="translate(1430,3276)"><rect class="h" width="231" height="29"/><rect class="b" y="29" width="231" height="49"/><path class="l" d="M0 53H231M114 53V78M172 53V78"/><text class="n" x="7" y="20">nd_reagent_relationship</text><text class="r" x="223" y="20">[table]</text><text class="t" x="4" y="46">...</text><text class="t" x="5" y="71">&lt; 3</text></g>
<g id="cvterm" transform="translate(189,3902)"><rect class="h" width="185" height="31"/><rect class="b" y="31" width="185" height="193"/><path class="l" d="M0 60H185M0 89H185M0 118H185M0 147H185M0 176H185M0 200H185M76 200V224M116 200V224"/><text class="n" x="8" y="21">cvterm</text><text class="r" x="178" y="21">[table]</text><use href="#kp" x="14" y="46"/><text class="t" x="28" y="51">cvterm_id</text><use href="#kf" x="14" y="75"/><text class="t" x="28" y="80">cv_id</text><text class="t" x="28" y="109">name</text><use href="#kf" x="14" y="133"/><text class="t" x="28" y="138">dbxref_id</text><text class="t" x="28" y="167">is_obsolete</text><text class="t" x="4" y="194">...</text><text class="t" x="5" y="218">&lt; 2</text><text class="r" x="180" y="218">122 &gt;</text></g>
<g id="cvterm_relationship" transform="translate(464,3958)"><rect class="h" width="200" height="29"/><rect class="b" y="29" width="200" height="49"/><path class="l" d="M0 53H200M97 53V78M148 53V78"/><text class="n" x="7" y="20">cvterm_relationship</text><text class="r" x="192" y="20">[table]</text><text class="t" x="4" y="46">...</text><text class="t" x="5" y="71">&lt; 3</text></g>
<g id="cvtermprop" transform="translate(494,4065)"><rect class="h" width="141" height="29"/><rect class="b" y="29" width="141" height="49"/><path class="l" d="M0 53H141M67 53V78M104 53V78"/><text class="n" x="7" y="20">cvtermprop</text><text class="r" x="133" y="20">[table]</text><text class="t" x="4" y="46">...</text><text class="t" x="5" y="71">&lt; 2</text></g>
<g id="cvtermsynonym" transform="translate(477,4171)"><rect class="h" width="174" height="29"/><rect class="b" y="29" width="174" height="49"/><path class="l" d="M0 53H174M84 53V78M128 53V78"/><text class="n" x="7" y="20">cvtermsynonym</text><text class="r" x="166" y="20">[table]</text><text class="t" x="4" y="46">...</text><text class="t" x="5" y="71">&lt; 2</text></g>
<g id="dbprop" transform="translate(508,4278)"><rect class="h" width="112" height="29"/><rect class="b" y="29" width="112" height="49"/><path class="l" d="M0 53H112M53 53V78M83 53V78"/><text class="n" x="7" y="20">dbprop</text><text class="r" x="104" y="20">[table]</text><text class="t" x="4" y="46">...</text><text class="t" x="5" y="71">&lt; 2</text></g>
<g id="pub" transform="translate(520,4385)"><rect class="h" width="88" height="29"/><rect class="b" y="29" width="88" height="49"/><path class="l" d="M0 53H88M32 53V78M49 53V78"/><text class="n" x="7" y="20">pub</text><text class="r" x="80" y="20">[table]</text><text class="t" x="4" y="46">...</text><text class="t" x="4" y="71">&lt; 1</text><text class="r" x="85" y="71">47 &gt;</text></g>
<g id="elementresult_relationship" transform="translate(441,4529)"><rect class="h" width="247" height="29"/><rect class="b" y="29" width="247" height="49"/><path class="l" d="M0 53H247M121 53V78M185 53V78"/><text class="n" x="7" y="20">elementresult_relationship</text><text class="r" x="239" y="20">[table]</text><text class="t" x="4" y="46">...</text><text class="t" x="5" y="71">&lt; 3</text></g>
<g id="environment_cvterm" transform="translate(461,4635)"><rect class="h" width="205" height="29"/><rect class="b" y="29" width="205" height="49"/><path class="l" d="M0 53H205M100 53V78M153 53V78"/><text class="n" x="7" y="20">environment_cvterm</text><text class="r" x="197" y="20">[table]</text><text class="t" x="4" y="46">...</text><text class="t" x="5" y="71">&lt; 2</text></g>
<g id="expressionprop" transform="translate(479,4780)"><rect class="h" width="170" height="29"/><rect class="b" y="29" width="170" height="49"/><path class="l" d="M0 53H170M82 53V78M126 53V78"/><text class="n" x="7" y="20">expressionprop</text><text class="r" x="162" y="20">[table]</text><text class="t" x="4" y="46">...</text><text class="t" x="5" y="71">&lt; 2</text></g>
<g id="feature_expressionprop" transform="translate(451,4995)"><rect class="h" width="228" height="29"/><rect class="b" y="29" width="228" height="49"/><path class="l" d="M0 53H228M111 53V78M169 53V78"/><text class="n" x="7" y="20">feature_expressionprop</text><text class="r" x="220" y="20">[table]</text><text class="t" x="4" y="46">...</text><text class="t" x="5" y="71">&lt; 2</text></g>
<g id="feature_pubprop" transform="translate(476,5175)"><rect class="h" width="177" height="29"/><rect class="b" y="29" width="177" height="49"/><path class="l" d="M0 53H177M86 53V78M132 53V78"/><text class="n" x="7" y="20">feature_pubprop</text><text class="r" x="169" y="20">[table]</text><text class="t" x="4" y="46">...</text><text class="t" x="5" y="71">&lt; 2</text></g>
<g id="phenotype_comparison_cvterm" transform="translate(754,3959)"><rect class="h" width="282" height="29"/><rect class="b" y="29" width="282" height="49"/><path class="l" d="M0 53H282M139 53V78M210 53V78"/><text class="n" x="7" y="20">phenotype_comparison_cvterm</text><text class="r" x="274" y="20">[table]</text><text class="t" x="4" y="46">...</text><text class="t" x="5" y="71">&lt; 3</text></g>
<g id="pub_relationship" transform="translate(805,4174)"><rect class="h" width="178" height="29"/><rect class="b" y="29" width="178" height="49"/><path class="l" d="M0 53H178M87 53V78M133 53V78"/><text class="n" x="7" y="20">pub_relationship</text><text class="r" x="170" y="20">[table]</text><text class="t" x="4" y="46">...</text><text class="t" x="5" y="71">&lt; 3</text></g>
<g id="organism_cvterm" transform="translate(804,4281)"><rect class="h" width="183" height="29"/><rect class="b" y="29" width="183" height="49"/><path class="l" d="M0 53H183M82 53V78M127 53V78"/><text class="n" x="7" y="20">organism_cvterm</text><text class="r" x="175" y="20">[table]</text><text class="t" x="4" y="46">...</text><text class="t" x="5" y="71">&lt; 3</text><text class="r" x="178" y="71">1 &gt;</text></g>
<g id="pubprop" transform="translate(835,4497)"><rect class="h" width="121" height="29"/><rect class="b" y="29" width="121" height="49"/><path class="l" d="M0 53H121M58 53V78M88 53V78"/><text class="n" x="7" y="20">pubprop</text><text class="r" x="113" y="20">[table]</text><text class="t" x="4" y="46">...</text><text class="t" x="5" y="71">&lt; 2</text></g>
<g id="phenstatement" transform="translate(812,4727)"><rect class="h" width="166" height="29"/><rect class="b" y="29" width="166" height="49"/><path class="l" d="M0 53H166M80 53V78M123 53V78"/><text class="n" x="7" y="20">phenstatement</text><text class="r" x="158" y="20">[table]</text><text class="t" x="4" y="46">...</text><text class="t" x="5" y="71">&lt; 5</text></g>
<g id="feature" transform="translate(841,4978)"><rect class="h" width="109" height="29"/><rect class="b" y="29" width="109" height="49"/><path class="l" d="M0 53H109M42 53V78M65 53V78"/><text class="n" x="7" y="20">feature</text><text class="r" x="101" y="20">[table]</text><text class="t" x="4" y="46">...</text><text class="t" x="5" y="71">&lt; 3</text><text class="r" x="104" y="71">30 &gt;</text></g>
<g id="library_cvterm" transform="translate(1129,4317)"><rect class="h" width="162" height="29"/><rect class="b" y="29" width="162" height="49"/><path class="l" d="M0 53H162M79 53V78M120 53V78"/><text class="n" x="7" y="20">library_cvterm</text><text class="r" x="154" y="20">[table]</text><text class="t" x="4" y="46">...</text><text class="t" x="5" y="71">&lt; 3</text></g>
<g id="feature_relationshipprop" transform="translate(1429,4920)"><rect class="h" width="234" height="29"/><rect class="b" y="29" width="234" height="49"/><path class="l" d="M0 53H234M108 53V78M164 53V78"/><text class="n" x="7" y="20">feature_relationshipprop</text><text class="r" x="226" y="20">[table]</text><text class="t" x="4" y="46">...</text><text class="t" x="5" y="71">&lt; 2</text><text class="r" x="229" y="71">1 &gt;</text></g>
<g id="feature_relationship" transform="translate(1109,4957)"><rect class="h" width="202" height="29"/><rect class="b" y="29" width="202" height="49"/><path class="l" d="M0 53H202M93 53V78M140 53V78"/><text class="n" x="7" y="20">feature_relationship</text><text class="r" x="194" y="20">[table]</text><text class="t" x="4" y="46">...</text><text class="t" x="5" y="71">&lt; 3</text><text class="r" x="197" y="71">2 &gt;</text></g>
<g id="feature_cvterm" transform="translate(1127,5064)"><rect class="h" width="165" height="29"/><rect class="b" y="29" width="165" height="49"/><path class="l" d="M0 53H165M75 53V78M113 53V78"/><text class="n" x="7" y="20">feature_cvterm</text><text class="r" x="157" y="20">[table]</text><text class="t" x="4" y="46">...</text><text class="t" x="5" y="71">&lt; 3</text><text class="r" x="160" y="71">3 &gt;</text></g>
<g id="feature_genotype" transform="translate(1119,5170)"><rect class="h" width="182" height="29"/><rect class="b" y="29" width="182" height="49"/><path class="l" d="M0 53H182M89 53V78M135 53V78"/><text class="n" x="7" y="20">feature_genotype</text><text class="r" x="174" y="20">[table]</text><text class="t" x="4" y="46">...</text><text class="t" x="5" y="71">&lt; 4</text></g>
<g id="phendesc" transform="translate(830,5244)"><rect class="h" width="130" height="29"/><rect class="b" y="29" width="130" height="49"/><path class="l" d="M0 53H130M63 53V78M97 53V78"/><text class="n" x="7" y="20">phendesc</text><text class="r" x="122" y="20">[table]</text><text class="t" x="4" y="46">...</text><text class="t" x="5" y="71">&lt; 4</text></g>
<g id="quantification_relationship" transform="translate(439,5319)"><rect class="h" width="249" height="29"/><rect class="b" y="29" width="249" height="49"/><path class="l" d="M0 53H249M122 53V78M185 53V78"/><text class="n" x="7" y="20">quantification_relationship</text><text class="r" x="241" y="20">[table]</text><text class="t" x="4" y="46">...</text><text class="t" x="5" y="71">&lt; 3</text></g>
<g id="genotype" transform="translate(501,5464)"><rect class="h" width="126" height="29"/><rect class="b" y="29" width="126" height="49"/><path class="l" d="M0 53H126M54 53V78M84 53V78"/><text class="n" x="7" y="20">genotype</text><text class="r" x="118" y="20">[table]</text><text class="t" x="4" y="46">...</text><text class="t" x="5" y="71">&lt; 1</text><text class="r" x="121" y="71">8 &gt;</text></g>
<g id="genotypeprop" transform="translate(816,5571)"><rect class="h" width="158" height="29"/><rect class="b" y="29" width="158" height="49"/><path class="l" d="M0 53H158M77 53V78M117 53V78"/><text class="n" x="7" y="20">genotypeprop</text><text class="r" x="150" y="20">[table]</text><text class="t" x="4" y="46">...</text><text class="t" x="5" y="71">&lt; 2</text></g>
<g id="featureposprop" transform="translate(480,5607)"><rect class="h" width="169" height="29"/><rect class="b" y="29" width="169" height="49"/><path class="l" d="M0 53H169M82 53V78M125 53V78"/><text class="n" x="7" y="20">featureposprop</text><text class="r" x="161" y="20">[table]</text><text class="t" x="4" y="46">...</text><text class="t" x="5" y="71">&lt; 2</text></g>
<g id="library_expressionprop" transform="translate(452,5824)"><rect class="h" width="224" height="29"/><rect class="b" y="29" width="224" height="49"/><path class="l" d="M0 53H224M109 53V78M167 53V78"/><text class="n" x="7" y="20">library_expressionprop</text><text class="r" x="216" y="20">[table]</text><text class="t" x="4" y="46">...</text><text class="t" x="5" y="71">&lt; 2</text></g>
<g id="library_featureprop" transform="translate(467,5930)"><rect class="h" width="196" height="29"/><rect class="b" y="29" width="196" height="49"/><path class="l" d="M0 53H196M95 53V78M145 53V78"/><text class="n" x="7" y="20">library_featureprop</text><text class="r" x="188" y="20">[table]</text><text class="t" x="4" y="46">...</text><text class="t" x="5" y="71">&lt; 2</text></g>
<g id="expression_cvterm" transform="translate(467,6110)"><rect class="h" width="194" height="29"/><rect class="b" y="29" width="194" height="49"/><path class="l" d="M0 53H194M88 53V78M136 53V78"/><text class="n" x="7" y="20">expression_cvterm</text><text class="r" x="186" y="20">[table]</text><text class="t" x="4" y="46">...</text><text class="t" x="5" y="71">&lt; 3</text><text class="r" x="189" y="71">1 &gt;</text></g>
<g id="expression_cvtermprop" transform="translate(781,6110)"><rect class="h" width="227" height="29"/><rect class="b" y="29" width="227" height="49"/><path class="l" d="M0 53H227M111 53V78M169 53V78"/><text class="n" x="7" y="20">expression_cvtermprop</text><text class="r" x="219" y="20">[table]</text><text class="t" x="4" y="46">...</text><text class="t" x="5" y="71">&lt; 2</text></g>
<g id="organismprop" transform="translate(814,6217)"><rect class="h" width="160" height="29"/><rect class="b" y="29" width="160" height="49"/><path class="l" d="M0 53H160M72 53V78M110 53V78"/><text class="n" x="7" y="20">organismprop</text><text class="r" x="152" y="20">[table]</text><text class="t" x="4" y="46">...</text><text class="t" x="5" y="71">&lt; 2</text><text class="r" x="155" y="71">1 &gt;</text></g>
<g id="organism" transform="translate(501,6290)"><rect class="h" width="127" height="29"/><rect class="b" y="29" width="127" height="49"/><path class="l" d="M0 53H127M51 53V78M79 53V78"/><text class="n" x="7" y="20">organism</text><text class="r" x="119" y="20">[table]</text><text class="t" x="4" y="46">...</text><text class="t" x="5" y="71">&lt; 1</text><text class="r" x="122" y="71">14 &gt;</text></g>
<g id="organism_relationship" transform="translate(786,6324)"><rect class="h" width="218" height="29"/><rect class="b" y="29" width="218" height="49"/><path class="l" d="M0 53H218M107 53V78M162 53V78"/><text class="n" x="7" y="20">organism_relationship</text><text class="r" x="210" y="20">[table]</text><text class="t" x="4" y="46">...</text><text class="t" x="5" y="71">&lt; 3</text></g>
<g id="nd_geolocationprop" transform="translate(464,6434)"><rect class="h" width="201" height="29"/><rect class="b" y="29" width="201" height="49"/><path class="l" d="M0 53H201M98 53V78M149 53V78"/><text class="n" x="7" y="20">nd_geolocationprop</text><text class="r" x="193" y="20">[table]</text><text class="t" x="4" y="46">...</text><text class="t" x="5" y="71">&lt; 2</text></g>
<g id="featureprop" transform="translate(1139,5277)"><rect class="h" width="142" height="29"/><rect class="b" y="29" width="142" height="49"/><path class="l" d="M0 53H142M63 53V78M96 53V78"/><text class="n" x="7" y="20">featureprop</text><text class="r" x="134" y="20">[table]</text><text class="t" x="4" y="46">...</text><text class="t" x="5" y="71">&lt; 2</text><text class="r" x="137" y="71">1 &gt;</text></g>
<g id="feature_cvtermprop" transform="translate(1446,5222)"><rect class="h" width="199" height="29"/><rect class="b" y="29" width="199" height="49"/><path class="l" d="M0 53H199M98 53V78M149 53V78"/><text class="n" x="7" y="20">feature_cvtermprop</text><text class="r" x="191" y="20">[table]</text><text class="t" x="4" y="46">...</text><text class="t" x="5" y="71">&lt; 2</text></g>
<g id="nd_experiment_stockprop" transform="translate(1423,6045)"><rect class="h" width="245" height="29"/><rect class="b" y="29" width="245" height="49"/><path class="l" d="M0 53H245M121 53V78M182 53V78"/><text class="n" x="7" y="20">nd_experiment_stockprop</text><text class="r" x="237" y="20">[table]</text><text class="t" x="4" y="46">...</text><text class="t" x="5" y="71">&lt; 2</text></g>
<g id="stock_feature" transform="translate(1132,6234)"><rect class="h" width="156" height="29"/><rect class="b" y="29" width="156" height="49"/><path class="l" d="M0 53H156M76 53V78M116 53V78"/><text class="n" x="7" y="20">stock_feature</text><text class="r" x="148" y="20">[table]</text><text class="t" x="4" y="46">...</text><text class="t" x="5" y="71">&lt; 3</text></g>
<g id="nd_experiment_stock" transform="translate(1104,6341)"><rect class="h" width="210" height="29"/><rect class="b" y="29" width="210" height="49"/><path class="l" d="M0 53H210M98 53V78M148 53V78"/><text class="n" x="7" y="20">nd_experiment_stock</text><text class="r" x="202" y="20">[table]</text><text class="t" x="4" y="46">...</text><text class="t" x="5" y="71">&lt; 3</text><text class="r" x="205" y="71">2 &gt;</text></g>
<g id="stock_relationship" transform="translate(1114,6448)"><rect class="h" width="190" height="29"/><rect class="b" y="29" width="190" height="49"/><path class="l" d="M0 53H190M88 53V78M133 53V78"/><text class="n" x="7" y="20">stock_relationship</text><text class="r" x="182" y="20">[table]</text><text class="t" x="4" y="46">...</text><text class="t" x="5" y="71">&lt; 3</text><text class="r" x="185" y="71">2 &gt;</text></g>
<g id="stock_relationship_cvterm" transform="translate(1423,6448)"><rect class="h" width="245" height="29"/><rect class="b" y="29" width="245" height="49"/><path class="l" d="M0 53H245M120 53V78M182 53V78"/><text class="n" x="7" y="20">stock_relationship_cvterm</text><text class="r" x="237" y="20">[table]</text><text class="t" x="4" y="46">...</text><text class="t" x="5" y="71">&lt; 3</text></g>
<g id="stock" transform="translate(845,6611)"><rect class="h" width="99" height="29"/><rect class="b" y="29" width="99" height="49"/><path class="l" d="M0 53H99M39 53V78M58 53V78"/><text class="n" x="7" y="20">stock</text><text class="r" x="91" y="20">[table]</text><text class="t" x="4" y="46">...</text><text class="t" x="4" y="71">&lt; 3</text><text class="r" x="95" y="71">13 &gt;</text></g>
<g id="quantificationprop" transform="translate(469,6651)"><rect class="h" width="189" height="29"/><rect class="b" y="29" width="189" height="49"/><path class="l" d="M0 53H189M92 53V78M140 53V78"/><text class="n" x="7" y="20">quantificationprop</text><text class="r" x="181" y="20">[table]</text><text class="t" x="4" y="46">...</text><text class="t" x="5" y="71">&lt; 2</text></g>
<g id="nd_experiment" transform="translate(481,6866)"><rect class="h" width="165" height="29"/><rect class="b" y="29" width="165" height="49"/><path class="l" d="M0 53H165M71 53V78M108 53V78"/><text class="n" x="7" y="20">nd_experiment</text><text class="r" x="157" y="20">[table]</text><text class="t" x="4" y="46">...</text><text class="t" x="5" y="71">&lt; 2</text><text class="r" x="160" y="71">10 &gt;</text></g>
<g id="nd_experiment_analysis" transform="translate(780,6864)"><rect class="h" width="229" height="29"/><rect class="b" y="29" width="229" height="49"/><path class="l" d="M0 53H229M112 53V78M170 53V78"/><text class="n" x="7" y="20">nd_experiment_analysis</text><text class="r" x="221" y="20">[table]</text><text class="t" x="4" y="46">...</text><text class="t" x="5" y="71">&lt; 3</text></g>
<g id="nd_experimentprop" transform="translate(796,6970)"><rect class="h" width="198" height="29"/><rect class="b" y="29" width="198" height="49"/><path class="l" d="M0 53H198M96 53V78M147 53V78"/><text class="n" x="7" y="20">nd_experimentprop</text><text class="r" x="190" y="20">[table]</text><text class="t" x="4" y="46">...</text><text class="t" x="5" y="71">&lt; 2</text></g>
<g id="library" transform="translate(842,7150)"><rect class="h" width="106" height="29"/><rect class="b" y="29" width="106" height="49"/><path class="l" d="M0 53H106M41 53V78M62 53V78"/><text class="n" x="7" y="20">library</text><text class="r" x="98" y="20">[table]</text><text class="t" x="4" y="46">...</text><text class="t" x="5" y="71">&lt; 2</text><text class="r" x="101" y="71">12 &gt;</text></g>
<g id="featuremap" transform="translate(495,7170)"><rect class="h" width="140" height="29"/><rect class="b" y="29" width="140" height="49"/><path class="l" d="M0 53H140M60 53V78M94 53V78"/><text class="n" x="7" y="20">featuremap</text><text class="r" x="132" y="20">[table]</text><text class="t" x="4" y="46">...</text><text class="t" x="5" y="71">&lt; 1</text><text class="r" x="135" y="71">8 &gt;</text></g>
<g id="featuremapprop" transform="translate(807,7257)"><rect class="h" width="174" height="29"/><rect class="b" y="29" width="174" height="49"/><path class="l" d="M0 53H174M85 53V78M129 53V78"/><text class="n" x="7" y="20">featuremapprop</text><text class="r" x="166" y="20">[table]</text><text class="t" x="4" y="46">...</text><text class="t" x="5" y="71">&lt; 2</text></g>
<g id="cv" transform="translate(31,7473)"><rect class="h" width="77" height="29"/><rect class="b" y="29" width="77" height="49"/><path class="l" d="M0 53H77M24 53V78M44 53V78"/><text class="n" x="7" y="20">cv</text><text class="r" x="69" y="20">[table]</text><text class="t" x="4" y="46">...</text><text class="r" x="72" y="71">3 &gt;</text></g>
<g id="cvtermpath" transform="translate(495,7473)"><rect class="h" width="140" height="29"/><rect class="b" y="29" width="140" height="49"/><path class="l" d="M0 53H140M67 53V78M104 53V78"/><text class="n" x="7" y="20">cvtermpath</text><text class="r" x="132" y="20">[table]</text><text class="t" x="4" y="46">...</text><text class="t" x="5" y="71">&lt; 4</text></g>
<g id="cvprop" transform="translate(510,7579)"><rect class="h" width="109" height="29"/><rect class="b" y="29" width="109" height="49"/><path class="l" d="M0 53H109M51 53V78M79 53V78"/><text class="n" x="7" y="20">cvprop</text><text class="r" x="101" y="20">[table]</text><text class="t" x="4" y="46">...</text><text class="t" x="5" y="71">&lt; 2</text></g>
<g id="stockprop" transform="translate(1144,6554)"><rect class="h" width="132" height="29"/><rect class="b" y="29" width="132" height="49"/><path class="l" d="M0 53H132M58 53V78M89 53V78"/><text class="n" x="7" y="20">stockprop</text><text class="r" x="124" y="20">[table]</text><text class="t" x="4" y="46">...</text><text class="t" x="5" y="71">&lt; 2</text><text class="r" x="127" y="71">1 &gt;</text></g>
<g id="stock_cvterm" transform="translate(1129,6661)"><rect class="h" width="162" height="31"/><rect class="b" y="31" width="162" height="193"/><path class="l" d="M0 60H162M0 89H162M0 118H162M0 147H162M0 176H162M0 200H162M73 200V224M111 200V224"/><text class="n" x="8" y="21">stock_cvterm</text><text class="r" x="154" y="21">[table]</text><use href="#kp" x="14" y="46"/><text class="t" x="28" y="51">stock_cvterm_id</text><use href="#kf" x="14" y="75"/><text class="t" x="28" y="80">stock_id</text><use href="#kf" x="14" y="104"/><text class="t" x="28" y="109">cvterm_id</text><use href="#kf" x="14" y="133"/><text class="t" x="28" y="138">pub_id</text><text class="t" x="28" y="167">rank</text><text class="t" x="4" y="194">...</text><text class="t" x="5" y="218">&lt; 3</text><text class="r" x="157" y="218">1 &gt;</text></g>
<g id="stock_cvtermprop" transform="translate(1384,6982)"><rect class="h" width="322" height="32"/><rect class="b" y="32" width="322" height="171"/><path class="l" d="M0 61H322M0 90H322M0 119H322M0 148H322M0 177H322M201 32V203M108 177V203"/><rect width="322" height="203" fill="none" stroke="#000" stroke-width="2.5"/><text class="n" x="9" y="22">stock_cvtermprop</text><text class="r" x="314" y="22">[table]</text><use href="#kp" x="15" y="47"/><text class="t" x="29" y="52">stock_cvtermprop_id</text><text class="t" x="205" y="52">bigserial[19]</text><use href="#kf" x="15" y="76"/><text class="t" x="29" y="81">stock_cvterm_id</text><text class="t" x="205" y="81">int8[19]</text><use href="#kf" x="15" y="105"/><text class="t" x="29" y="110">type_id</text><text class="t" x="205" y="110">int8[19]</text><text class="t" x="29" y="139">value</text><text class="t" x="205" y="139">text[2147483647]</text><text class="t" x="29" y="168">rank</text><text class="t" x="205" y="168">int4[10]</text><text class="t" x="5" y="195">&lt; 2</text><text class="r" x="316" y="195">0 &gt;</text></g>
<g id="stock_featuremap" transform="translate(1118,7038)"><rect class="h" width="185" height="29"/><rect class="b" y="29" width="185" height="49"/><path class="l" d="M0 53H185M90 53V78M136 53V78"/><text class="n" x="7" y="20">stock_featuremap</text><text class="r" x="177" y="20">[table]</text><text class="t" x="4" y="46">...</text><text class="t" x="5" y="71">&lt; 3</text></g>
<g id="library_relationship" transform="translate(1111,7150)"><rect class="h" width="197" height="29"/><rect class="b" y="29" width="197" height="49"/><path class="l" d="M0 53H197M91 53V78M137 53V78"/><text class="n" x="7" y="20">library_relationship</text><text class="r" x="189" y="20">[table]</text><text class="t" x="4" y="46">...</text><text class="t" x="5" y="71">&lt; 3</text><text class="r" x="192" y="71">1 &gt;</text></g>
<g id="libraryprop" transform="translate(1140,7292)"><rect class="h" width="139" height="29"/><rect class="b" y="29" width="139" height="49"/><path class="l" d="M0 53H139M62 53V78M93 53V78"/><text class="n" x="7" y="20">libraryprop</text><text class="r" x="131" y="20">[table]</text><text class="t" x="4" y="46">...</text><text class="t" x="5" y="71">&lt; 2</text><text class="r" x="134" y="71">1 &gt;</text></g>
<text class="t" x="17" y="7697" fill="#333">Generated by SchemaSpy</text>
</svg>
